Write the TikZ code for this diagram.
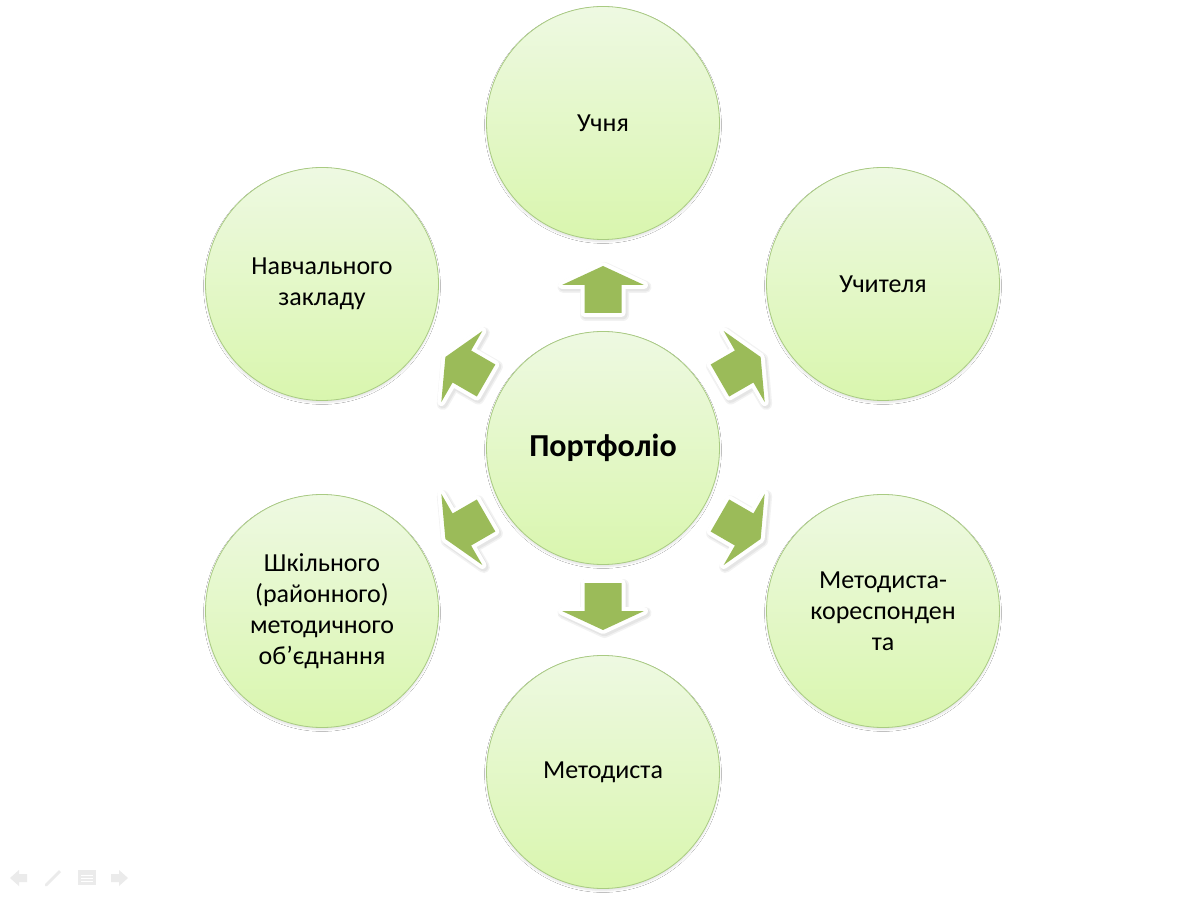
\documentclass[tikz,border=0pt]{standalone}
\usepackage{fontspec}
\setmainfont{Carlito}
\usetikzlibrary{calc,shadows,shadows.blur}
\definecolor{arrowgreen}{HTML}{9BBB59}
\definecolor{circtop}{HTML}{EEF9E2}
\definecolor{circbot}{HTML}{D9F6AE}
\definecolor{circline}{HTML}{A9CB82}
\definecolor{navgray}{HTML}{EBEBEB}
\begin{document}
\begin{tikzpicture}[x=1pt,y=1pt,
  bubble/.style={circle, minimum size=233pt, inner sep=0pt, draw=circline, line width=0.8pt,
    top color=circtop, bottom color=circbot, align=center, text=black,
    font=\fontsize{26}{31}\selectfont,
    blur shadow={shadow xshift=0pt, shadow yshift=-2pt, shadow blur steps=6, shadow opacity=12}},
  arrowshape/.style={fill=arrowgreen},
  arrowedge/.style={draw=white, fill=white, line width=8pt, line join=round},
  arrowshadow/.style={draw=black, fill=black, line width=#1, line join=round, opacity=0.05},
  nav/.style={fill=navgray, draw=none}
]
\path[use as bounding box, fill=white] (0,0) rectangle (1201,898);

% arrows
\foreach \a in {90,30,-30,-90,-150,150} {
  \begin{scope}[shift={(604.5,448)}, rotate=\a]
    \path[arrowshadow=12pt] (135,-18.5) -- (163,-18.5) -- (163,-41) -- (182,0) -- (163,41) -- (163,18.5) -- (135,18.5) -- cycle;
    \path[arrowshadow=9pt] (135,-18.5) -- (163,-18.5) -- (163,-41) -- (182,0) -- (163,41) -- (163,18.5) -- (135,18.5) -- cycle;
  \end{scope}
  \begin{scope}[shift={(603,450)}, rotate=\a]
    \path[arrowedge] (135,-18.5) -- (163,-18.5) -- (163,-41) -- (182,0) -- (163,41) -- (163,18.5) -- (135,18.5) -- cycle;
    \path[arrowshape] (135,-18.5) -- (163,-18.5) -- (163,-41) -- (182,0) -- (163,41) -- (163,18.5) -- (135,18.5) -- cycle;
  \end{scope}
}

\node[bubble] (c)  at (603,450) {\fontsize{32}{36}\selectfont\bfseries Портфоліо};
\node[bubble] (t)  at (603,775) {Учня};
\node[bubble] (tr) at (883,614) {Учителя};
\node[bubble] (br) at (883,287) {Методиста-\\кореспонден\\та};
\node[bubble] (b)  at (603,126) {Методиста};
\node[bubble] (bl) at (322,287) {Шкільного\\(районного)\\методичного\\об’єднання};
\node[bubble] (tl) at (322,614) {Навчального\\закладу};

% slideshow navigation icons
\path[nav] (10,20) -- (19,28) -- (19,24) -- (27,24) -- (27,16) -- (19,16) -- (19,12) -- cycle;
\path[nav] (45,12) -- (47,12) -- (61,26) -- (59,28) -- (45,14) -- cycle;
\path[nav] (78,13) rectangle (96,28);
\draw[white, line width=1pt] (81,23) -- (93,23) (81,20) -- (93,20) (81,17) -- (93,17);
\path[nav] (128,20) -- (119,28) -- (119,24) -- (111,24) -- (111,16) -- (119,16) -- (119,12) -- cycle;
\end{tikzpicture}
\end{document}
